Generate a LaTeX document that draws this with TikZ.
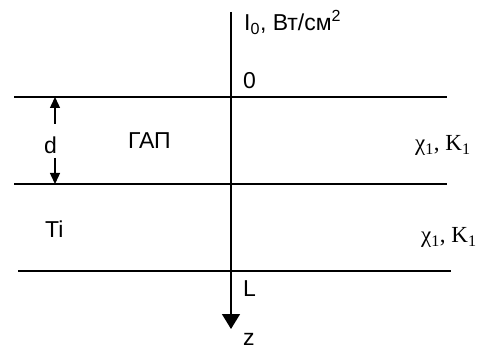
\documentclass[tikz,border=0pt]{standalone}
\usepackage{fontspec}
\setmainfont{Liberation Sans}
\newfontfamily\timesfont{Liberation Serif}
\usetikzlibrary{arrows.meta}
\begin{document}
\begin{tikzpicture}[x=1pt,y=-1pt,
  lbl/.style={inner sep=0pt,anchor=base west,font=\fontsize{23}{27}\selectfont},
  tlbl/.style={inner sep=0pt,anchor=base west,font=\timesfont\fontsize{23}{27}\selectfont},
  layer/.style={line width=1.4pt},
  axisline/.style={line width=1.4pt,-{Triangle[width=18pt,length=15pt]}},
  dimarrow/.style={line width=1.4pt,-{Triangle[width=10pt,length=11pt]}}]
\useasboundingbox (0,0) rectangle (492,347);
% layer boundaries
\coordinate (t1) at (14,97);  \coordinate (t2) at (447,97);
\coordinate (m1) at (14,184); \coordinate (m2) at (447,184);
\coordinate (b1) at (18,271); \coordinate (b2) at (451,271);
\draw[layer] (t1) -- (t2);
\draw[layer] (m1) -- (m2);
\draw[layer] (b1) -- (b2);
% axis
\coordinate (ztop) at (231,12);
\coordinate (zend) at (231,329);
\draw[axisline] (ztop) -- (zend);
% labels
\node[lbl] (I0) at (244,31) {I\textsubscript{0}, Вт/см\textsuperscript{2}};
\node[lbl] (zero) at (243,89) {0};
\node[lbl] (L) at (243,296) {L};
\node[lbl] (z) at (243,345) {z};
\node[lbl] (gap) at (128,149) {ГАП};
\node[lbl] (ti) at (45,237) {Ti};
\node[lbl] (d) at (44,154) {d};
\node[tlbl] (k1) at (415,151) {χ\textsubscript{1}, K\textsubscript{1}};
\node[tlbl] (k2) at (421,243) {χ\textsubscript{1}, K\textsubscript{1}};
% thickness arrows
\coordinate (da) at (55,124);
\coordinate (db) at (55,158);
\coordinate (dt) at (55,97);
\coordinate (dbot) at (55,184);
\draw[dimarrow] (da) -- (dt);
\draw[dimarrow] (db) -- (dbot);
\end{tikzpicture}
\end{document}
